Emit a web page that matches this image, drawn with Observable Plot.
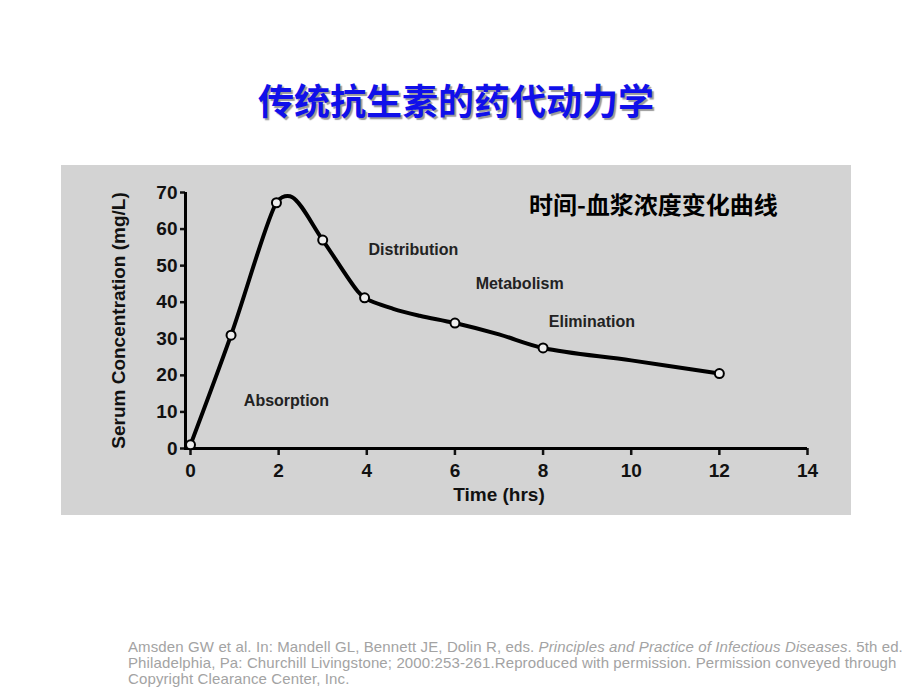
<!DOCTYPE html>
<html><head><meta charset="utf-8">
<script src="https://cdn.jsdelivr.net/npm/d3@7"></script>
<script src="https://cdn.jsdelivr.net/npm/@observablehq/plot@0.6"></script>
<style>
html,body{margin:0;padding:0;background:#fff;}
#page{position:relative;width:920px;height:690px;overflow:hidden;font-family:"Liberation Sans",Arial,sans-serif;}
#title{position:absolute;left:0;width:912px;top:76px;text-align:center;font-family:"Noto Sans CJK SC",sans-serif;font-weight:bold;font-size:36px;color:#1010ea;text-shadow:2px 2px 1px #9a9a9a;line-height:46px;}
#panel{position:absolute;left:61px;top:165px;width:790px;height:350px;background:#d3d3d3;}
#panel svg{position:absolute;left:0;top:0;}
#note{position:absolute;left:128px;top:639px;font-size:15px;line-height:16px;letter-spacing:0.12px;color:#a3a3a3;white-space:nowrap;}
</style></head>
<body><div id="page">
<div id="title"></div>
<div id="panel"></div>
<div id="note"></div>
</div>
<script>
// ---- data ----
const titleText = "传统抗生素的药代动力学";
const subtitleText = "时间-血浆浓度变化曲线";
const times = [0, 0.92, 1.95, 3, 3.95, 6, 8, 12];        // hrs (marker points)
const conc  = [1, 31, 67.2, 57, 41.2, 34.3, 27.5, 20.5]; // mg/L
// vertices of the drawn curve
const curveTimes = [0, 0.92, 1.95, 2.08, 2.31, 3, 3.78, 3.95, 4.6, 5.2, 6, 7, 8, 10, 12];
const curveConc  = [1, 31, 67.2, 68.7, 68.7, 57, 43.2, 41.2, 38.2, 36.3, 34.3, 31.2, 27.5, 24.1, 20.5];
const xTicks = [0, 2, 4, 6, 8, 10, 12, 14];
const yTicks = [0, 10, 20, 30, 40, 50, 60, 70];
const phaseLabels = ["Absorption", "Distribution", "Metabolism", "Elimination"];
const phaseX = [1.21, 4.04, 6.47, 8.13];
const phaseY = [12.9, 54.2, 45, 34.5];
const subtitleX = [7.68];
const subtitleY = [66.3];
const xLabel = "Time (hrs)";
const yLabel = "Serum Concentration (mg/L)";
const noteLines = [
  'Amsden GW et al. In: Mandell GL, Bennett JE, Dolin R, eds. <i>Principles and Practice of Infectious Diseases</i>. 5th ed.',
  'Philadelphia, Pa: Churchill Livingstone; 2000:253-261.Reproduced with permission. Permission conveyed through',
  'Copyright Clearance Center, Inc.'
];

document.getElementById("title").textContent = titleText;
document.getElementById("note").innerHTML = noteLines.join("<br>");

const curve = curveTimes.map((t, i) => ({t, c: curveConc[i]}));
const pts = times.map((t, i) => ({t, c: conc[i]}));
const phases = phaseLabels.map((s, i) => ({s, x: phaseX[i], y: phaseY[i]}));
const subs = subtitleX.map((x, i) => ({s: subtitleText, x, y: subtitleY[i]}));

const chart = Plot.plot({
  width: 790, height: 350,
  marginLeft: 129, marginRight: 44, marginTop: 27, marginBottom: 67,
  x: {domain: [0, 14]},
  y: {domain: [0, 70]},
  style: {background: "transparent", color: "#111", fontFamily: "'Liberation Sans', Arial, sans-serif", fontSize: "17px", fontWeight: "bold", overflow: "visible"},
  marks: [
    Plot.axisX({ticks: xTicks, tickSize: 7, tickPadding: 8, strokeWidth: 2.5, fontSize: 19, label: xLabel, labelAnchor: "center", labelArrow: "none", labelOffset: 52}),
    Plot.axisY({ticks: yTicks, tickSize: 5, tickPadding: 3, dx: -5, strokeWidth: 2.5, fontSize: 19, label: yLabel, labelAnchor: "center", labelArrow: "none", labelOffset: 79}),
    Plot.ruleX([0], {dx: -5, strokeWidth: 3, stroke: "#000"}),
    Plot.ruleY([0], {x1: 0, x2: 14, insetLeft: -6, strokeWidth: 3, stroke: "#000"}),
    Plot.line(curve, {x: "t", y: "c", curve: "catmull-rom", strokeWidth: 4, stroke: "#000"}),
    Plot.dot(pts, {x: "t", y: "c", r: 4.5, stroke: "#000", strokeWidth: 2, fill: "#eeeeee"}),
    Plot.text(phases, {x: "x", y: "y", text: "s", textAnchor: "start", fontSize: 16, fill: "#222"}),
    Plot.text(subs, {x: "x", y: "y", text: "s", textAnchor: "start", fontSize: 24, fontWeight: "bold", fontFamily: "'Noto Sans CJK SC', sans-serif", fill: "#000"})
  ]
});
document.getElementById("panel").appendChild(chart);
</script>
</body></html>
